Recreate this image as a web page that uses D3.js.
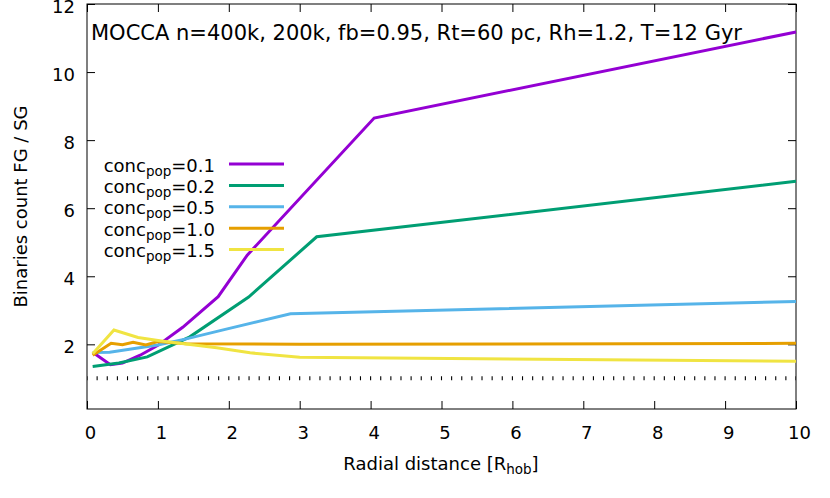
<!DOCTYPE html>
<html>
<head>
<meta charset="utf-8">
<script src="https://cdn.jsdelivr.net/npm/d3@7"></script>
<style>
  body { margin: 0; background: #fff; }
  svg { font-family: "DejaVu Sans", sans-serif; }
</style>
</head>
<body>
<div id="chart"></div>
<script>
// series: [radial distance, FG/SG binaries count]
const conc01 = [[0.08,1.77],[0.33,1.40],[0.5,1.45],[0.75,1.68],[1.0,1.97],[1.35,2.5],[1.85,3.4],[2.26,4.62],[4.05,8.65],[10,11.18]];
const conc02 = [[0.08,1.35],[0.45,1.45],[0.85,1.63],[1.45,2.22],[2.28,3.39],[3.24,5.16],[10,6.79]];
const conc05 = [[0.08,1.76],[0.32,1.77],[0.74,1.9],[1.0,1.98],[1.4,2.16],[1.95,2.44],[2.87,2.9],[10,3.26]];
const conc10 = [[0.08,1.68],[0.34,2.03],[0.5,1.99],[0.65,2.06],[0.83,1.98],[1.0,2.08],[1.4,2.02],[3.0,2.0],[10,2.03]];
const conc15 = [[0.08,1.72],[0.38,2.42],[0.72,2.2],[1.05,2.1],[1.83,1.9],[2.3,1.75],[3.0,1.62],[10,1.5]];

const seriesNames = ["0.1", "0.2", "0.5", "1.0", "1.5"];
const seriesData = [conc01, conc02, conc05, conc10, conc15];
const colors = ["#9400d3", "#009e73", "#56b4e9", "#e69f00", "#f0e442"];

const xTicks = [0, 1, 2, 3, 4, 5, 6, 7, 8, 9, 10];
const yTicks = [2, 4, 6, 8, 10, 12];
const refLevel = 1; // dotted reference at y = 1

const width = 830, height = 498;
const margin = {left: 87, right: 34, top: 4, bottom: 89};

const x = d3.scaleLinear().domain([0, 10]).range([margin.left, width - margin.right]);
const y = d3.scaleLinear().domain([0.1, 12]).range([height - margin.bottom, margin.top]);

const svg = d3.select("#chart").append("svg")
  .attr("width", width)
  .attr("height", height);

// axes, ticks inward and mirrored like gnuplot
const tickLen = 8;
const gx = svg.append("g").attr("transform", `translate(0,${y.range()[0]})`)
  .call(d3.axisBottom(x).tickValues(xTicks).tickSizeInner(-tickLen).tickSizeOuter(0).tickPadding(17));
const gxt = svg.append("g").attr("transform", `translate(0,${y.range()[1]})`)
  .call(d3.axisTop(x).tickValues(xTicks).tickSizeInner(-tickLen).tickSizeOuter(0).tickFormat(""));
const gy = svg.append("g").attr("transform", `translate(${x.range()[0]},0)`)
  .call(d3.axisLeft(y).tickValues(yTicks).tickSizeInner(-tickLen).tickSizeOuter(0).tickPadding(12));
const gyr = svg.append("g").attr("transform", `translate(${x.range()[1]},0)`)
  .call(d3.axisRight(y).tickValues(yTicks).tickSizeInner(-tickLen).tickSizeOuter(0).tickFormat(""));

[gx, gxt, gy, gyr].forEach(g => {
  g.select(".domain").remove();
  g.selectAll("line").attr("stroke", "#000");
  g.selectAll("text").attr("font-size", 18).attr("fill", "#000").attr("font-family", "DejaVu Sans");
});
gx.selectAll("text").attr("dy", "0.71em").attr("dx", 3);
gy.selectAll("text").attr("dy", "0.45em");

// frame
svg.append("rect")
  .attr("x", x.range()[0]).attr("y", y.range()[1])
  .attr("width", x.range()[1] - x.range()[0])
  .attr("height", y.range()[0] - y.range()[1])
  .attr("fill", "none").attr("stroke", "#000").attr("stroke-width", 1);

// dotted reference line: little vertical dashes
const step = (x(1) - x(0)) / 7;
svg.append("line")
  .attr("x1", x(0)).attr("x2", x(10))
  .attr("y1", y(refLevel)).attr("y2", y(refLevel))
  .attr("stroke", "#000")
  .attr("stroke-width", 4)
  .attr("stroke-dasharray", `1.1,${step - 1.1}`)
  .attr("stroke-dashoffset", -(step - 0.55));

// lines
const line = d3.line().x(d => x(d[0])).y(d => y(d[1]));
svg.append("g").selectAll("path")
  .data(seriesData)
  .join("path")
  .attr("d", line)
  .attr("fill", "none")
  .attr("stroke", (d, i) => colors[i])
  .attr("stroke-width", 3)
  .attr("stroke-linejoin", "miter");

// title inside the plot
svg.append("text")
  .attr("x", 91).attr("y", 40)
  .attr("font-size", 21)
  .text("MOCCA n=400k, 200k, fb=0.95, Rt=60 pc, Rh=1.2, T=12 Gyr");

// legend
const legend = svg.append("g");
seriesNames.forEach((name, i) => {
  const ly = 164 + i * 21.4;
  const t = legend.append("text")
    .attr("x", 215).attr("y", ly + 7.5)
    .attr("text-anchor", "end")
    .attr("font-size", 18);
  t.append("tspan").text("conc");
  t.append("tspan").attr("font-size", 13.5).attr("dy", 4).text("pop");
  t.append("tspan").attr("dy", -4).text("=" + name);
  legend.append("line")
    .attr("x1", 229).attr("x2", 284)
    .attr("y1", ly).attr("y2", ly)
    .attr("stroke", colors[i]).attr("stroke-width", 3);
});

// axis titles
const xl = svg.append("text")
  .attr("x", 441).attr("y", 470)
  .attr("text-anchor", "middle")
  .attr("font-size", 18);
xl.append("tspan").text("Radial distance [R");
xl.append("tspan").attr("font-size", 13.5).attr("dy", 4).text("hob");
xl.append("tspan").attr("dy", -4).text("]");

svg.append("text")
  .attr("transform", `translate(27,${(y.range()[0] + y.range()[1]) / 2}) rotate(-90)`)
  .attr("text-anchor", "middle")
  .attr("font-size", 18)
  .text("Binaries count FG / SG");
</script>
</body>
</html>
